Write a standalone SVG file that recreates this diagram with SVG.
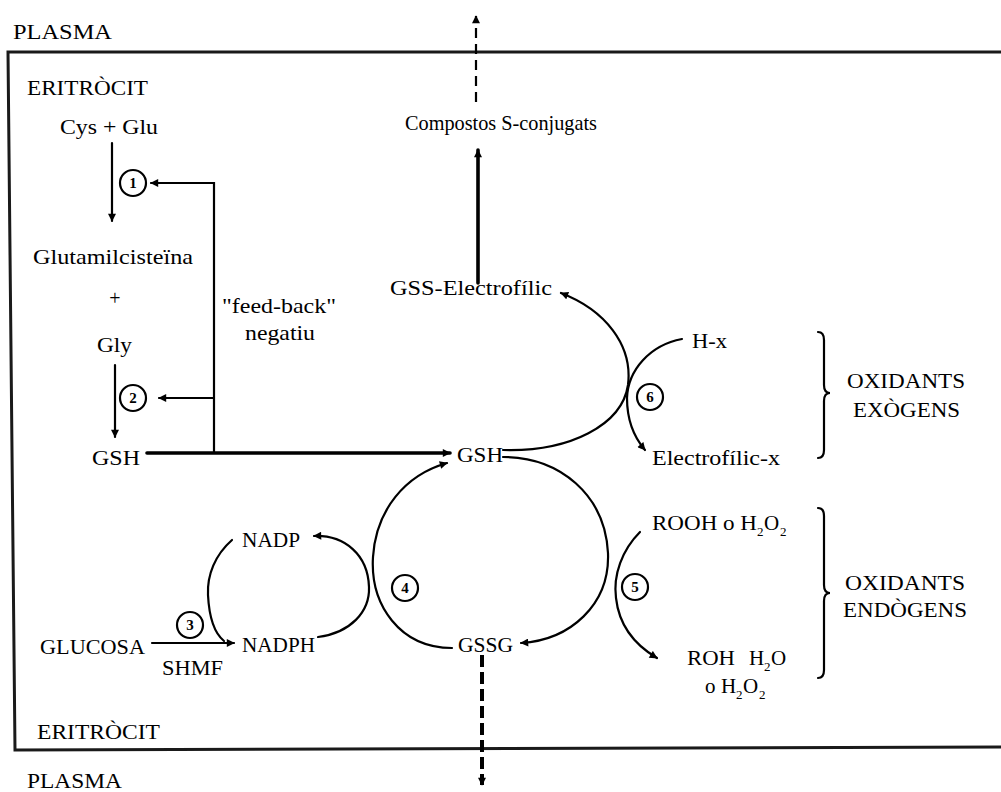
<svg xmlns="http://www.w3.org/2000/svg" width="1001" height="792" viewBox="0 0 1001 792">
<style>
text{font-family:"Liberation Serif","Times New Roman",serif;font-size:21px;fill:#000}
.sub{font-size:13px}
.num{font-size:15px;font-weight:bold;text-anchor:middle}
.ln{fill:none;stroke:#000;stroke-width:2.2;stroke-linecap:round}
.thick{stroke-width:3.6}
.frame{fill:none;stroke:#1a1a1a;stroke-width:3}
.circ{fill:#fff;stroke:#000;stroke-width:2.2}
.dash{stroke-dasharray:10 6;stroke-linecap:butt}
.dash2{stroke-dasharray:12 5;stroke-width:4;stroke-linecap:butt}
</style>
<defs>
<marker id="ah" viewBox="0 0 10 10" refX="9" refY="5" markerWidth="9" markerHeight="8" markerUnits="userSpaceOnUse" orient="auto">
<path d="M0,0 L10,5 L0,10 z" fill="#000"/>
</marker>
</defs>

<g id="frame">
<path class="frame" d="M1001,52 L8,52 L15,750 L1001,747"/>
</g>

<g id="labels-compartments">
<text x="13" y="39" textLength="99" lengthAdjust="spacingAndGlyphs">PLASMA</text>
<text x="27" y="95" textLength="121" lengthAdjust="spacingAndGlyphs">ERITRÒCIT</text>
<text x="37" y="739" textLength="123" lengthAdjust="spacingAndGlyphs">ERITRÒCIT</text>
<text x="27" y="788" textLength="95" lengthAdjust="spacingAndGlyphs">PLASMA</text>
</g>

<g id="connectors">
<path class="ln" d="M112,143 L112,221" marker-end="url(#ah)"/>
<path class="ln" d="M115,365 L115,437" marker-end="url(#ah)"/>
<path class="ln" d="M214,453 L214,183 L151,183" marker-end="url(#ah)"/>
<path class="ln" d="M214,398 L159,398" marker-end="url(#ah)"/>
<path class="ln thick" d="M147,453 L450,453" marker-end="url(#ah)"/>
<path class="ln thick" d="M478,283 L478,150" marker-end="url(#ah)"/>
<path class="ln dash" d="M476,102 L476,16" marker-end="url(#ah)"/>
<path class="ln dash2" d="M482,655 L482,785" marker-end="url(#ah)"/>
<path class="ln" d="M452,648 C400,648 370,605 373,557 C376,510 405,475 447,463" marker-end="url(#ah)"/>
<path class="ln" d="M503,457 C560,457 605,495 608,553 C610,605 570,640 521,643" marker-end="url(#ah)"/>
<path class="ln" d="M503,450 C570,452 622,425 628,385 C633,345 605,310 561,293" marker-end="url(#ah)"/>
<path class="ln" d="M682,339 C650,345 628,370 627,398 C627,420 633,436 645,450" marker-end="url(#ah)"/>
<path class="ln" d="M640,532 C622,550 613,575 616,598 C619,625 635,645 657,658" marker-end="url(#ah)"/>
<path class="ln" d="M318,637 C350,633 370,612 369,587 C368,555 345,535 314,536" marker-end="url(#ah)"/>
<path class="ln" d="M232,540 C215,555 207,575 208,595 C209,615 213,632 224,641"/>
<path class="ln" d="M152,643 L234,643" marker-end="url(#ah)"/>
<path class="ln" d="M818,332 Q824,332 824,340 L824,385 Q824,393 830,393 Q824,393 824,401 L824,450 Q824,458 818,458"/>
<path class="ln" d="M818,508 Q824,508 824,516 L824,585 Q824,593 830,593 Q824,593 824,601 L824,670 Q824,678 818,678"/>
</g>

<g id="enzymes">
<g id="e1"><circle class="circ" cx="133" cy="183" r="13"/><text class="num" x="133" y="188">1</text></g>
<g id="e2"><circle class="circ" cx="133" cy="398" r="13"/><text class="num" x="133" y="403">2</text></g>
<g id="e3"><circle class="circ" cx="190" cy="625" r="13"/><text class="num" x="190" y="630">3</text></g>
<g id="e4"><circle class="circ" cx="405" cy="588" r="13"/><text class="num" x="405" y="593">4</text></g>
<g id="e5"><circle class="circ" cx="635" cy="587" r="13"/><text class="num" x="635" y="592">5</text></g>
<g id="e6"><circle class="circ" cx="650" cy="397" r="13"/><text class="num" x="650" y="402">6</text></g>
</g>

<g id="n-cysglu"><text x="60" y="134" textLength="98" lengthAdjust="spacingAndGlyphs">Cys + Glu</text></g>
<g id="n-glutamil"><text x="33" y="264" textLength="160" lengthAdjust="spacingAndGlyphs">Glutamilcisteïna</text></g>
<g id="n-plus"><text x="115" y="305" text-anchor="middle" style="font-size:20px">+</text></g>
<g id="n-gly"><text x="97" y="352" textLength="35" lengthAdjust="spacingAndGlyphs">Gly</text></g>
<g id="n-gsh1"><text x="92" y="465" textLength="48" lengthAdjust="spacingAndGlyphs">GSH</text></g>
<g id="n-feedback">
<text x="222" y="313" textLength="114" lengthAdjust="spacingAndGlyphs">"feed-back"</text>
<text x="245" y="340" textLength="70" lengthAdjust="spacingAndGlyphs">negatiu</text>
</g>
<g id="n-compostos"><text x="405" y="130" textLength="192" lengthAdjust="spacingAndGlyphs">Compostos S-conjugats</text></g>
<g id="n-gss"><text x="390" y="295" textLength="162" lengthAdjust="spacingAndGlyphs">GSS-Electrofílic</text></g>
<g id="n-gsh2"><text x="457" y="462" textLength="46" lengthAdjust="spacingAndGlyphs">GSH</text></g>
<g id="n-hx"><text x="692" y="348" textLength="35" lengthAdjust="spacingAndGlyphs">H-x</text></g>
<g id="n-elx"><text x="652" y="465" textLength="128" lengthAdjust="spacingAndGlyphs">Electrofílic-x</text></g>
<g id="n-exo">
<text x="847" y="388" textLength="118" lengthAdjust="spacingAndGlyphs">OXIDANTS</text>
<text x="853" y="417" textLength="107" lengthAdjust="spacingAndGlyphs">EXÒGENS</text>
</g>
<g id="n-rooh"><text y="530"><tspan x="652" textLength="105" lengthAdjust="spacingAndGlyphs">ROOH o H</tspan><tspan class="sub" x="757" dy="6">2</tspan><tspan x="764" dy="-6">O</tspan><tspan class="sub" x="780" dy="6">2</tspan></text></g>
<g id="n-roh">
<text y="665"><tspan x="687" textLength="48" lengthAdjust="spacingAndGlyphs">ROH</tspan><tspan x="749">H</tspan><tspan class="sub" x="764" dy="6">2</tspan><tspan x="771" dy="-6">O</tspan></text>
<text y="693"><tspan x="705">o</tspan><tspan x="721">H</tspan><tspan class="sub" x="736" dy="6">2</tspan><tspan x="743" dy="-6">O</tspan><tspan class="sub" x="759" dy="6">2</tspan></text>
</g>
<g id="n-endo">
<text x="845" y="590" textLength="120" lengthAdjust="spacingAndGlyphs">OXIDANTS</text>
<text x="843" y="617" textLength="124" lengthAdjust="spacingAndGlyphs">ENDÒGENS</text>
</g>
<g id="n-nadp"><text x="242" y="547" textLength="58" lengthAdjust="spacingAndGlyphs">NADP</text></g>
<g id="n-nadph"><text x="242" y="652" textLength="73" lengthAdjust="spacingAndGlyphs">NADPH</text></g>
<g id="n-glucosa"><text x="40" y="654" textLength="105" lengthAdjust="spacingAndGlyphs">GLUCOSA</text></g>
<g id="n-shmf"><text x="162" y="675" textLength="61" lengthAdjust="spacingAndGlyphs">SHMF</text></g>
<g id="n-gssg"><text x="458" y="652" textLength="55" lengthAdjust="spacingAndGlyphs">GSSG</text></g>
</svg>
